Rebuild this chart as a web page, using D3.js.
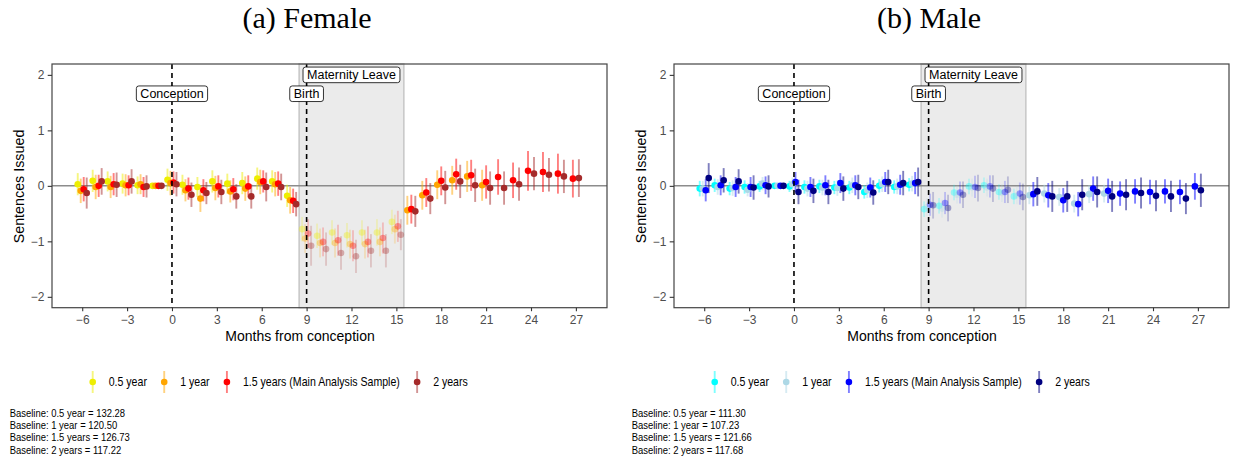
<!DOCTYPE html>
<html>
<head>
<meta charset="utf-8">
<script src="https://cdn.jsdelivr.net/npm/d3@7"></script>
<style>
  body { margin: 0; background: #fff; }
  svg text { font-family: "Liberation Sans", Arial, sans-serif; }
</style>
</head>
<body>
<div id="chart"></div>
<script>
// months from conception (month -1 is the reference)
const months = [-6,-5,-4,-3,-2,-1,0,1,2,3,4,5,6,7,8,9,10,11,12,13,14,15,16,17,18,19,20,21,22,23,24,25,26,27];
const xTicks = [-6,-3,0,3,6,9,12,15,18,21,24,27];
const yTicks = [-2,-1,0,1,2];
const seriesNames = ["0.5 year", "1 year", "1.5 years (Main Analysis Sample)", "2 years"];

// Female estimates
const f05 = [0.03,0.09,0.08,0.04,0.01,0,0.11,0.02,-0.02,0.08,0.04,0.05,0.13,0.08,-0.18,-0.78,-0.90,-0.84,-0.89,-0.84,-0.84,-0.65,
  null,null,null,null,null,null,null,null,null,null,null,null];
const f10 = [-0.09,-0.02,-0.02,0.01,0.03,0,0.05,-0.08,-0.23,-0.04,-0.10,-0.05,0.07,0.03,-0.26,-0.95,-1.03,-1.03,-1.05,-1.05,-1.01,-0.78,
  -0.44,-0.17,0.02,0.10,0.17,0.01,null,null,null,null,null,null];
const f15 = [-0.06,0.00,0.03,0.01,-0.02,0,0.06,-0.05,-0.08,-0.01,-0.06,-0.01,0.08,0.04,-0.27,-0.86,-1.01,-0.98,-1.08,-1.01,-0.94,-0.73,
  -0.42,-0.12,0.09,0.21,0.19,0.07,0.16,0.10,0.27,0.25,0.22,0.13];
const f20 = [-0.13,0.08,0.02,0.08,-0.01,0,0.03,-0.16,-0.13,-0.11,-0.19,-0.19,-0.02,-0.02,-0.33,-1.08,-1.14,-1.21,-1.27,-1.17,-1.17,-0.88,
  -0.46,-0.23,-0.03,0.08,0.01,-0.04,-0.04,0.03,0.22,0.20,0.17,0.14];
// Female CI half widths
const f05ci = [0.2,0.2,0.18,0.18,0.16,0,0.2,0.18,0.18,0.2,0.18,0.2,0.2,0.2,0.2,0.22,0.22,0.22,0.22,0.22,0.24,0.22,
  null,null,null,null,null,null,null,null,null,null,null,null];
const f10ci = [0.22,0.22,0.2,0.2,0.18,0,0.22,0.2,0.24,0.22,0.2,0.22,0.22,0.22,0.24,0.26,0.26,0.26,0.26,0.26,0.26,0.26,
  0.26,0.26,0.26,0.26,0.28,0.28,null,null,null,null,null,null];
const f15ci = [0.22,0.2,0.2,0.18,0.18,0,0.2,0.2,0.2,0.2,0.2,0.2,0.2,0.22,0.22,0.26,0.26,0.28,0.28,0.28,0.28,0.28,
  0.26,0.26,0.26,0.28,0.28,0.3,0.32,0.32,0.36,0.36,0.36,0.34];
const f20ci = [0.28,0.24,0.22,0.22,0.2,0,0.22,0.22,0.2,0.22,0.22,0.22,0.26,0.24,0.22,0.36,0.3,0.3,0.3,0.3,0.3,0.28,
  0.28,0.28,0.3,0.3,0.3,0.3,0.3,0.3,0.3,0.3,0.3,0.34];

// Male estimates
const m05 = [-0.05,0.01,-0.05,-0.02,-0.01,0,-0.01,-0.02,-0.01,-0.03,-0.03,-0.11,0.00,-0.02,0.02,-0.42,-0.36,-0.12,-0.01,0.01,-0.11,-0.19,
  null,null,null,null,null,null,null,null,null,null,null,null];
const m10 = [-0.05,-0.02,-0.04,-0.07,0.04,0,0.03,-0.05,-0.03,-0.04,0.01,-0.08,0.03,-0.01,0.04,-0.38,-0.41,-0.16,-0.03,-0.03,-0.13,-0.17,
  -0.17,-0.14,-0.20,-0.32,-0.15,-0.14,null,null,null,null,null,null];
const m15 = [-0.08,0.01,-0.02,-0.02,0.01,0,0.07,-0.02,0.01,0.05,0.01,-0.03,0.07,0.02,0.05,-0.34,-0.31,-0.12,-0.02,-0.01,-0.11,-0.14,
  -0.15,-0.17,-0.26,-0.33,-0.05,-0.09,-0.14,-0.10,-0.11,-0.10,-0.11,-0.01];
const m20 = [0.14,0.10,0.08,-0.03,-0.01,0,-0.11,-0.09,-0.11,-0.05,-0.02,-0.12,0.07,0.05,0.07,-0.35,-0.40,-0.16,-0.04,-0.05,-0.07,-0.20,
  -0.10,-0.19,-0.19,-0.16,-0.11,-0.19,-0.16,-0.13,-0.18,-0.19,-0.23,-0.08];
// Male CI half widths
const m05ci = [0.14,0.12,0.12,0.12,0.1,0,0.1,0.12,0.12,0.12,0.12,0.12,0.12,0.12,0.12,0.14,0.14,0.14,0.14,0.14,0.14,0.14,
  null,null,null,null,null,null,null,null,null,null,null,null];
const m10ci = [0.14,0.14,0.14,0.12,0.12,0,0.12,0.14,0.14,0.14,0.14,0.14,0.14,0.14,0.14,0.16,0.16,0.16,0.16,0.16,0.16,0.16,
  0.16,0.16,0.16,0.16,0.16,0.16,null,null,null,null,null,null];
const m15ci = [0.2,0.18,0.18,0.18,0.16,0,0.18,0.18,0.18,0.18,0.18,0.18,0.18,0.18,0.2,0.2,0.2,0.2,0.2,0.2,0.2,0.2,
  0.22,0.22,0.22,0.22,0.22,0.22,0.22,0.22,0.22,0.22,0.22,0.24];
const m20ci = [0.27,0.22,0.22,0.22,0.2,0,0.22,0.22,0.22,0.22,0.22,0.22,0.22,0.22,0.26,0.24,0.24,0.24,0.24,0.24,0.24,0.24,
  0.26,0.28,0.28,0.28,0.28,0.28,0.28,0.28,0.28,0.28,0.28,0.3];

const femaleColors = ["#eeee00", "#ffa500", "#ff0000", "#a52a2a"];
const maleColors = ["#00ffff", "#add8e6", "#0000ff", "#000080"];
const femaleBase = ["Baseline: 0.5 year = 132.28", "Baseline: 1 year = 120.50", "Baseline: 1.5 years = 126.73", "Baseline: 2 years = 117.22"];
const maleBase = ["Baseline: 0.5 year = 111.30", "Baseline: 1 year = 107.23", "Baseline: 1.5 years = 121.66", "Baseline: 2 years = 117.68"];

const leaveStart = 8.5, leaveEnd = 15.5;
const eventNames = ["Conception", "Birth", "Maternity Leave"];
const eventX = [0, 9, 12];
const eventY = [1.66, 1.66, 2.0];

const svg = d3.select("#chart").append("svg")
  .attr("width", 1233)
  .attr("height", 457);

function drawPanel(dx, title, vals, cis, colors, baseText) {
  const g = svg.append("g").attr("transform", `translate(${dx},0)`);
  const x = d3.scaleLinear().domain([-8.02, 29.08]).range([52, 607]);
  const y = d3.scaleLinear().domain([-2.196, 2.196]).range([307.7, 64]);
  const top = y.range()[1], bottom = y.range()[0];

  // maternity leave shade
  g.append("rect")
    .attr("x", x(leaveStart)).attr("y", top)
    .attr("width", x(leaveEnd) - x(leaveStart)).attr("height", bottom - top)
    .attr("fill", "#ebebeb").attr("stroke", "#c6c6c6").attr("stroke-width", 1.5);

  // zero line
  g.append("line")
    .attr("x1", 52).attr("x2", 607)
    .attr("y1", y(0)).attr("y2", y(0))
    .attr("stroke", "#8c8c8c").attr("stroke-width", 1.5);

  // dodge points like position_dodge(0.8)
  const pts = [];
  months.forEach((m, i) => {
    const present = [0, 1, 2, 3].filter(s => vals[s][i] != null);
    present.forEach((s, k) => {
      pts.push({ m, s, v: vals[s][i], ci: cis[s][i],
        xo: m - 0.4 + 0.8 * (k + 0.5) / present.length });
    });
  });
  pts.sort((a, b) => a.s - b.s);
  const inLeave = d => d.m >= 9 && d.m <= 15;

  g.append("g").selectAll("line")
    .data(pts.filter(d => d.ci > 0))
    .enter().append("line")
    .attr("x1", d => x(d.xo)).attr("x2", d => x(d.xo))
    .attr("y1", d => y(d.v - d.ci)).attr("y2", d => y(d.v + d.ci))
    .attr("stroke", d => colors[d.s])
    .attr("stroke-width", 1.9)
    .attr("stroke-opacity", d => inLeave(d) ? 0.2 : 0.5);

  g.append("g").selectAll("circle")
    .data(pts)
    .enter().append("circle")
    .attr("cx", d => x(d.xo)).attr("cy", d => y(d.v))
    .attr("r", 3.3)
    .attr("fill", d => colors[d.s])
    .attr("fill-opacity", d => inLeave(d) ? 0.35 : 1);

  // conception / birth dashed lines
  [0, 9].forEach(m => {
    g.append("line")
      .attr("x1", x(m)).attr("x2", x(m))
      .attr("y1", top).attr("y2", bottom)
      .attr("stroke", "#000").attr("stroke-width", 1.6)
      .attr("stroke-dasharray", "5,4");
  });

  // panel border
  g.append("rect")
    .attr("x", 52).attr("y", top)
    .attr("width", 555).attr("height", bottom - top)
    .attr("fill", "none").attr("stroke", "#444").attr("stroke-width", 1.2);

  // event labels
  eventNames.forEach((name, i) => {
    const lg = g.append("g").attr("transform", `translate(${x(eventX[i])},${y(eventY[i])})`);
    const box = lg.append("rect");
    const t = lg.append("text")
      .attr("text-anchor", "middle").attr("dy", "0.35em")
      .style("font-size", "12.5px").attr("fill", "#000")
      .text(name);
    const w = t.node().getComputedTextLength() + 8;
    box.attr("x", -w / 2).attr("y", -7.8).attr("width", w).attr("height", 15.6)
      .attr("rx", 2.5).attr("fill", "#fff").attr("stroke", "#000").attr("stroke-width", 0.8);
  });

  // axes
  const xAxis = d3.axisBottom(x).tickValues(xTicks).tickSize(3.5).tickPadding(4.5)
    .tickFormat(d => d < 0 ? "\u2212" + Math.abs(d) : d);
  const xg = g.append("g").attr("transform", `translate(0,${bottom})`).call(xAxis);
  const yAxis = d3.axisLeft(y).tickValues(yTicks).tickSize(4.3).tickPadding(3.4)
    .tickFormat(d => d < 0 ? "\u2212" + Math.abs(d) : d);
  const yg = g.append("g").attr("transform", "translate(52,0)").call(yAxis);
  [xg, yg].forEach(a => {
    a.select(".domain").remove();
    a.selectAll(".tick line").attr("stroke", "#333").attr("stroke-width", 1.1);
    a.selectAll(".tick text").attr("fill", "#4d4d4d").style("font-size", "12px");
  });

  // titles
  g.append("text")
    .attr("x", 300).attr("y", 341)
    .attr("text-anchor", "middle")
    .style("font-size", "14px").attr("fill", "#000")
    .text("Months from conception");
  g.append("text")
    .attr("transform", "translate(24,186.5) rotate(-90)")
    .attr("text-anchor", "middle")
    .style("font-size", "14.3px").attr("fill", "#000")
    .text("Sentences Issued");
  g.append("text")
    .attr("x", 307).attr("y", 28)
    .attr("text-anchor", "middle")
    .style("font-family", "'Liberation Serif', 'DejaVu Serif', serif")
    .style("font-size", "30px").attr("fill", "#000")
    .text(title);

  // legend (text is a bit condensed in the original)
  let cx = 92.7;
  const ly = 382;
  const sx = 0.84;
  seriesNames.forEach((name, s) => {
    g.append("line")
      .attr("x1", cx).attr("x2", cx).attr("y1", ly - 11).attr("y2", ly + 11)
      .attr("stroke", colors[s]).attr("stroke-width", 1.9).attr("stroke-opacity", 0.5);
    g.append("circle").attr("cx", cx).attr("cy", ly).attr("r", 3.3).attr("fill", colors[s]);
    const t = g.append("text")
      .attr("transform", `translate(${cx + 16},${ly}) scale(${sx},1)`)
      .attr("dy", "0.35em")
      .style("font-size", "12.6px").attr("fill", "#000")
      .text(name);
    cx += 16 + t.node().getComputedTextLength() * sx + 17.3;
  });

  // baseline notes
  baseText.forEach((txt, i) => {
    g.append("text")
      .attr("transform", `translate(9.7,${413 + i * 12.3}) scale(0.92,1)`)
      .attr("dy", "0.35em")
      .style("font-size", "10.3px").attr("fill", "#000")
      .text(txt);
  });
}

drawPanel(0, "(a) Female", [f05, f10, f15, f20], [f05ci, f10ci, f15ci, f20ci], femaleColors, femaleBase);
drawPanel(622, "(b) Male", [m05, m10, m15, m20], [m05ci, m10ci, m15ci, m20ci], maleColors, maleBase);
</script>
</body>
</html>
